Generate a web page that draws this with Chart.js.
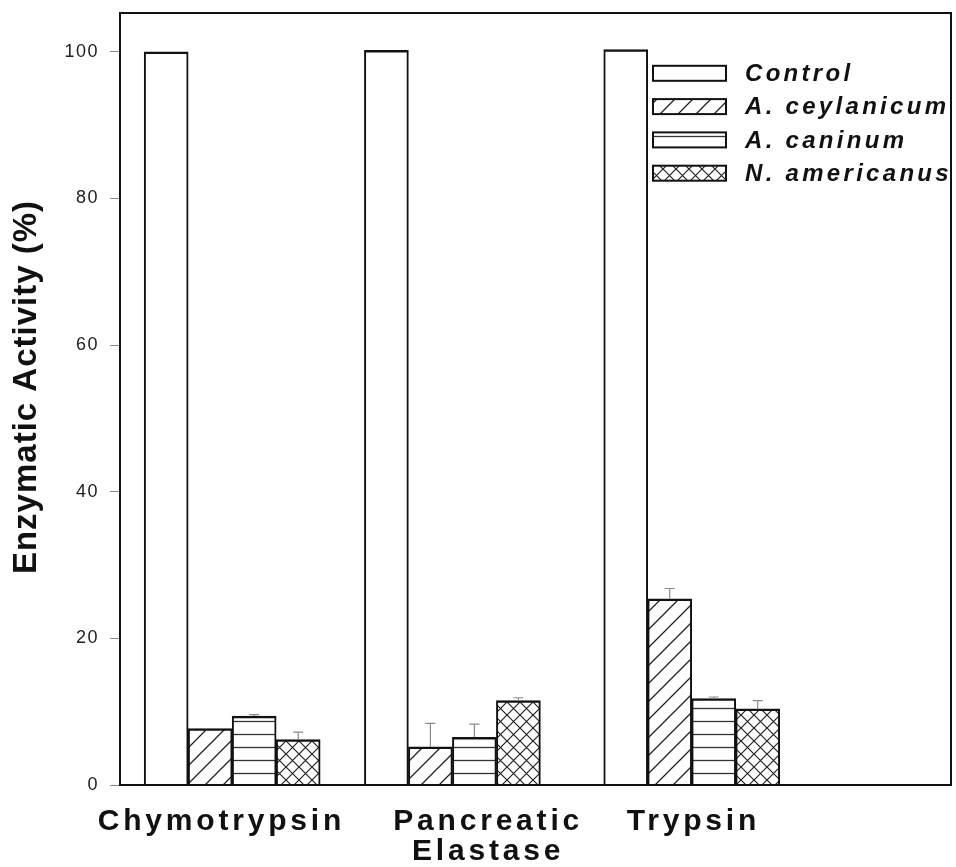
<!DOCTYPE html>
<html>
<head>
<meta charset="utf-8">
<script src="https://cdn.jsdelivr.net/npm/chart.js@4/dist/chart.umd.min.js"></script>
<style>
html,body{margin:0;padding:0;background:#fff;}
canvas{display:block;}
</style>
</head>
<body>
<canvas id="c" width="956" height="867"></canvas>
<script>
// ---- data ----
const categories = ['Chymotrypsin', 'Pancreatic Elastase', 'Trypsin'];
const seriesNames = ['Control', 'A. ceylanicum', 'A. caninum', 'N. americanus'];
const control = [100, 100.2, 100.3];
const ceylanicum = [7.7, 5.2, 25.4];
const caninum = [9.4, 6.5, 11.8];
const americanus = [6.2, 11.5, 10.4];
const controlErr = [0, 0, 0];
const ceylanicumErr = [0, 3.2, 1.4];
const caninumErr = [0.2, 1.8, 0.2];
const americanusErr = [1.0, 0.4, 1.1];
const yTicks = [0, 20, 40, 60, 80, 100];

// ---- layout (group and label positions on a 0-100 horizontal axis) ----
const groupCenters = [13.5, 40, 68.8];
const labelCenters = [12.2, 44.3, 69];
const LEG = { x: 653, w: 73, h: 15, top: 73.3, gap: 33.3, textX: 745 };

const FONT = '"Liberation Sans", Arial, Helvetica, sans-serif';
const canvas = document.getElementById('c');
const cctx = canvas.getContext('2d');

// letter spacing by font size (the original uses wide tracking)
const spacingBySize = { '18': '1.5px', '30': '3.8px', '33': '1px', '24': '3.3px' };
function spacingFor(font) {
  const m = String(font).match(/(\d+(?:\.\d+)?)px/);
  return (m && spacingBySize[m[1]]) || '0px';
}
['fillText', 'measureText'].forEach(fn => {
  const orig = CanvasRenderingContext2D.prototype[fn];
  cctx[fn] = function (...args) {
    try { this.letterSpacing = spacingFor(this.font); } catch (e) {}
    return orig.apply(this, args);
  };
});

function tile(w, h, draw) {
  const c = document.createElement('canvas');
  c.width = w; c.height = h;
  const g = c.getContext('2d');
  g.fillStyle = '#fff'; g.fillRect(0, 0, w, h);
  g.strokeStyle = '#222';
  draw(g);
  return cctx.createPattern(c, 'repeat');
}
const diagPat = tile(18, 18, g => {
  g.lineWidth = 1.3; g.beginPath();
  g.moveTo(-2, 20); g.lineTo(20, -2);
  g.moveTo(-2, 2); g.lineTo(2, -2);
  g.moveTo(16, 20); g.lineTo(20, 16);
  g.stroke();
});
const horizPat = tile(10, 13, g => {
  g.lineWidth = 1.3; g.strokeStyle = '#333'; g.beginPath();
  g.moveTo(0, 6.5); g.lineTo(10, 6.5); g.stroke();
});
const crossPat = tile(13, 13, g => {
  g.lineWidth = 1.2; g.beginPath();
  g.moveTo(-1, -1); g.lineTo(14, 14);
  g.moveTo(-1, 14); g.lineTo(14, -1);
  g.stroke();
});

const values = [control, ceylanicum, caninum, americanus];
const errors = [controlErr, ceylanicumErr, caninumErr, americanusErr];
const fills = ['#ffffff', diagPat, horizPat, crossPat];

const datasets = seriesNames.map((name, k) => ({
  label: name,
  data: values[k].map((v, i) => ({ x: groupCenters[i], y: v })),
  errors: errors[k],
  backgroundColor: fills[k],
  borderColor: '#111',
  borderWidth: { top: 2.5, left: 2, right: 2, bottom: 0 },
  borderSkipped: 'start',
  barThickness: 44
}));

const bgPlugin = {
  id: 'bg',
  beforeDraw(chart) {
    const ctx = chart.ctx;
    ctx.save(); ctx.fillStyle = '#fff';
    ctx.fillRect(0, 0, chart.width, chart.height); ctx.restore();
  },
  afterLayout(chart) {
    // the original's axis title sits a little above the axis middle
    const s = chart.scales.y;
    if (s && !s._titleShifted) {
      const orig = s.drawTitle.bind(s);
      s.drawTitle = function (...args) {
        const ctx = this.ctx;
        ctx.save(); ctx.translate(0, -12);
        orig(...args);
        ctx.restore();
      };
      s._titleShifted = true;
    }
  }
};

const boxAndErrPlugin = {
  id: 'boxErr',
  afterDatasetsDraw(chart) {
    const ctx = chart.ctx, a = chart.chartArea, ys = chart.scales.y;
    ctx.save();
    ctx.strokeStyle = '#8a8a8a'; ctx.lineWidth = 1.2;
    chart.data.datasets.forEach((ds, k) => {
      const meta = chart.getDatasetMeta(k);
      meta.data.forEach((bar, i) => {
        const e = ds.errors[i];
        if (!e) return;
        const yt = ys.getPixelForValue(ds.data[i].y + e);
        ctx.beginPath();
        ctx.moveTo(bar.x, bar.y); ctx.lineTo(bar.x, yt);
        ctx.moveTo(bar.x - 5, yt); ctx.lineTo(bar.x + 5, yt);
        ctx.stroke();
      });
    });
    ctx.strokeStyle = '#111'; ctx.lineWidth = 2;
    ctx.strokeRect(a.left, a.top, a.right - a.left, a.bottom - a.top);
    ctx.restore();
  }
};

const legendPlugin = {
  id: 'customLegend',
  afterDraw(chart) {
    const ctx = chart.ctx, a = chart.chartArea;
    ctx.save();
    ctx.beginPath();
    ctx.rect(a.left, a.top, a.right - a.left - 1, a.bottom - a.top);
    ctx.clip();
    chart.data.datasets.forEach((ds, k) => {
      const cy = LEG.top + k * LEG.gap;
      ctx.fillStyle = ds.backgroundColor;
      ctx.fillRect(LEG.x, cy - LEG.h / 2, LEG.w, LEG.h);
      ctx.lineWidth = 2; ctx.strokeStyle = '#111';
      ctx.strokeRect(LEG.x, cy - LEG.h / 2, LEG.w, LEG.h);
      ctx.font = 'italic bold 24px ' + FONT;
      ctx.fillStyle = '#111';
      ctx.textBaseline = 'middle'; ctx.textAlign = 'left';
      ctx.fillText(ds.label, LEG.textX, cy + 1);
    });
    ctx.restore();
  }
};

new Chart(canvas, {
  type: 'bar',
  data: { datasets },
  options: {
    responsive: false,
    animation: false,
    devicePixelRatio: 1,
    layout: { padding: { left: 0, top: 13, right: 5, bottom: 0 } },
    plugins: { legend: { display: false }, tooltip: { enabled: false } },
    scales: {
      x: {
        type: 'linear', min: 0, max: 100, offset: false,
        grid: { display: false, drawTicks: false, offset: false },
        border: { display: false },
        afterBuildTicks: s => { s.ticks = labelCenters.map(v => ({ value: v })); },
        afterFit: s => { s.height = 82; s.paddingLeft = 0; s.paddingRight = 0; },
        ticks: {
          autoSkip: false, maxRotation: 0, minRotation: 0, padding: 22, color: '#111',
          font: { family: FONT, size: 30, weight: 'bold', lineHeight: '30px' },
          callback: (v, i) => categories[i].split(' ')
        }
      },
      y: {
        min: 0, max: 105.3,
        afterBuildTicks: s => { s.ticks = yTicks.map(v => ({ value: v })); },
        afterFit: s => { s.width = 120; s.paddingTop = 0; s.paddingBottom = 0; },
        grid: { drawOnChartArea: false, drawTicks: true, tickLength: 10, color: '#888', lineWidth: 1 },
        border: { display: false },
        ticks: { padding: 11, color: '#222', font: { family: FONT, size: 18 } },
        title: {
          display: true, text: 'Enzymatic Activity (%)', color: '#111',
          font: { family: FONT, size: 33, weight: 'bold' },
          padding: { top: 7, bottom: 0 }
        }
      }
    }
  },
  plugins: [bgPlugin, boxAndErrPlugin, legendPlugin]
});
</script>
</body>
</html>
